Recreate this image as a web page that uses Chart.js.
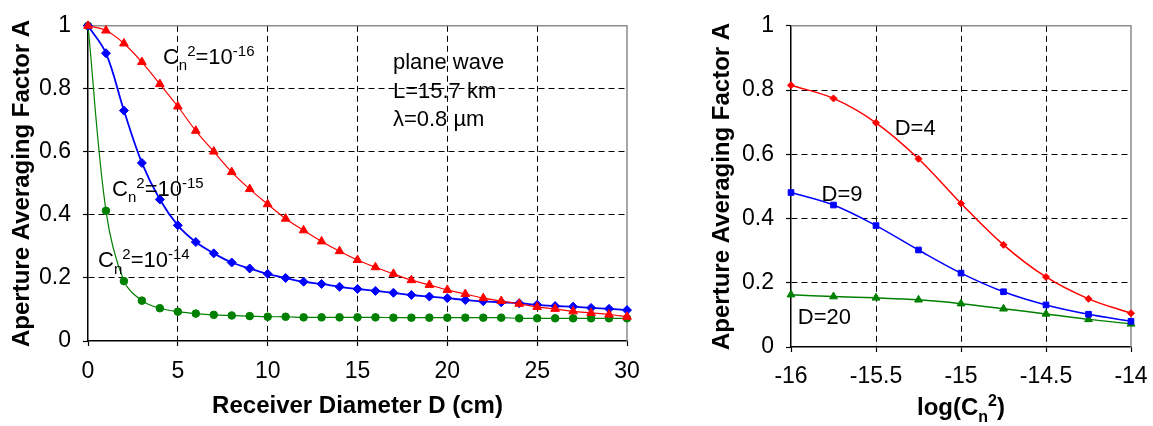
<!DOCTYPE html>
<html>
<head>
<meta charset="utf-8">
<script src="https://cdn.jsdelivr.net/npm/chart.js@4.4.0/dist/chart.umd.min.js"></script>
<style>
  html, body { margin: 0; padding: 0; background: #fff; }
  #wrap { position: relative; width: 1153px; height: 426px; overflow: hidden; }
  canvas { position: absolute; top: 0; }
  #left { left: 0; }
  #right { left: 700px; }
</style>
</head>
<body>
<div id="wrap">
  <canvas id="left" width="660" height="426"></canvas>
  <canvas id="right" width="470" height="426"></canvas>
</div>
<script>
// receiver diameter D (cm)
const diameters = [0, 1, 2, 3, 4, 5, 6, 7, 8, 9, 10, 11, 12, 13, 14, 15, 16, 17, 18, 19, 20,
                   21, 22, 23, 24, 25, 26, 27, 28, 29, 30];
// aperture averaging factor for each Cn^2
const cn2e16 = [1, 0.985, 0.944, 0.885, 0.815, 0.744, 0.667, 0.601, 0.536, 0.482, 0.434,
                0.388, 0.351, 0.316, 0.285, 0.257, 0.234, 0.213, 0.193, 0.178, 0.162,
                0.149, 0.136, 0.127, 0.118, 0.108, 0.102, 0.094, 0.089, 0.084, 0.077];
const cn2e15 = [1, 0.913, 0.731, 0.565, 0.449, 0.367, 0.314, 0.278, 0.249, 0.230, 0.213,
                0.200, 0.188, 0.181, 0.172, 0.165, 0.159, 0.153, 0.146, 0.141, 0.136,
                0.130, 0.126, 0.123, 0.120, 0.115, 0.111, 0.109, 0.105, 0.102, 0.098];
const cn2e14 = [1, 0.413, 0.190, 0.128, 0.104, 0.093, 0.087, 0.083, 0.081, 0.079, 0.077,
                0.077, 0.075, 0.075, 0.075, 0.075, 0.075, 0.074, 0.074, 0.074, 0.074,
                0.074, 0.074, 0.074, 0.072, 0.072, 0.072, 0.072, 0.072, 0.072, 0.072];

// log(Cn^2) sweep for fixed diameters
const logCn2 = [-16, -15.75, -15.5, -15.25, -15, -14.75, -14.5, -14.25, -14];
const diam4 = [0.815, 0.774, 0.698, 0.586, 0.447, 0.318, 0.218, 0.150, 0.105];
const diam9 = [0.481, 0.442, 0.378, 0.302, 0.230, 0.172, 0.131, 0.102, 0.080];
const diam20 = [0.163, 0.157, 0.153, 0.147, 0.135, 0.119, 0.103, 0.086, 0.072];

const FONT = '"Liberation Sans", Arial, sans-serif';
const pts = (xs, ys) => xs.map((x, i) => ({ x: x, y: ys[i] }));

// text with sub/superscript runs: parts = [[text, ''|'sub'|'sup'], ...]
function drawRich(ctx, x, y, parts, o) {
  const size = o.size, small = Math.round(size * 0.68), w = o.bold ? 'bold ' : '';
  const fontOf = k => w + (k ? small : size) + 'px ' + FONT;
  let total = 0;
  parts.forEach(([t, k]) => { ctx.font = fontOf(k); total += ctx.measureText(t).width; });
  let cx = o.align === 'center' ? x - total / 2 : x;
  ctx.save();
  ctx.fillStyle = '#000';
  ctx.textAlign = 'left';
  ctx.textBaseline = 'alphabetic';
  parts.forEach(([t, k]) => {
    ctx.font = fontOf(k);
    const dy = k === 'sub' ? size * 0.3 : k === 'sup' ? -size * 0.36 : 0;
    ctx.fillText(t, cx, y + dy);
    cx += ctx.measureText(t).width;
  });
  ctx.restore();
}

function textLayer(cfg) {
  return {
    id: 'textLayer',
    beforeDatasetsDraw(chart) {
      const { ctx, chartArea: a } = chart;
      ctx.save();
      ctx.strokeStyle = '#8c8c8c';
      ctx.lineWidth = 1.5;
      ctx.beginPath();
      ctx.moveTo(a.left, a.top);
      ctx.lineTo(a.right, a.top);
      ctx.lineTo(a.right, a.bottom);
      ctx.stroke();
      ctx.restore();
    },
    afterDraw(chart) {
      const { ctx, chartArea: a, scales } = chart;
      cfg.notes.forEach(n => drawRich(ctx, scales.x.getPixelForValue(n.x),
        scales.y.getPixelForValue(n.y), n.parts, { size: 22 }));
      drawRich(ctx, (a.left + a.right) / 2, cfg.xTitleY, cfg.xTitle, { size: 24, bold: true, align: 'center' });
      ctx.save();
      ctx.translate(cfg.yTitleX, (a.top + a.bottom) / 2);
      ctx.rotate(-Math.PI / 2);
      ctx.font = 'bold 24px ' + FONT;
      ctx.fillStyle = '#000';
      ctx.textAlign = 'center';
      ctx.textBaseline = 'middle';
      ctx.fillText(cfg.yTitle, 0, 0);
      ctx.restore();
    }
  };
}

function axis(min, max, step, size, pad, horizontal) {
  return {
    type: 'linear', min: min, max: max,
    ticks: {
      stepSize: step, color: '#000', padding: pad, font: { family: FONT, size: 23 },
      callback: v => String(Number(v.toFixed(2)))
    },
    grid: {
      color: c => (c.tick.value === min || c.tick.value === max) ? 'rgba(0,0,0,0)' : '#000',
      lineWidth: 1, tickLength: 5, tickColor: '#000', tickWidth: 1.2, tickBorderDash: []
    },
    border: { color: '#000', width: 1.5, dash: [6, 4] },
    afterFit: s => { if (horizontal) s.height = size; else s.width = size; }
  };
}

function series(data, color, style, radius, width) {
  return {
    data: data, borderColor: color, backgroundColor: color,
    pointBackgroundColor: color, pointBorderColor: color, pointBorderWidth: 1,
    pointStyle: style, pointRadius: radius, borderWidth: width,
    tension: 0.35, clip: false
  };
}

const cn = exp => [['C', ''], ['n', 'sub'], ['2', 'sup'], ['=10', ''], [exp, 'sup']];

new Chart(document.getElementById('left'), {
  type: 'line',
  data: {
    datasets: [
      series(pts(diameters, cn2e16), '#ff0000', 'triangle', 5, 1.2),
      series(pts(diameters, cn2e15), '#0000ff', 'rectRot', 4.5, 1.8),
      series(pts(diameters, cn2e14), '#008000', 'circle', 3.8, 1.2)
    ]
  },
  options: {
    responsive: false, animation: false, devicePixelRatio: 1,
    layout: { padding: { top: 16, right: 33, left: 0, bottom: 0 } },
    plugins: { legend: { display: false }, tooltip: { enabled: false } },
    scales: { x: axis(0, 30, 5, 85, 12, true), y: axis(0, 1, 0.2, 88, 12, false) }
  },
  plugins: [textLayer({
    xTitle: [['Receiver Diameter D (cm)', '']], xTitleY: 413,
    yTitle: 'Aperture Averaging Factor A', yTitleX: 22,
    notes: [
      { x: 4.17, y: 0.88, parts: cn('-16') },
      { x: 1.34, y: 0.4615, parts: cn('-15') },
      { x: 0.56, y: 0.234, parts: cn('-14') },
      { x: 16.97, y: 0.8615, parts: [['plane wave', '']] },
      { x: 16.97, y: 0.772, parts: [['L=15.7 km', '']] },
      { x: 16.97, y: 0.683, parts: [['\u03bb=0.8 \u00b5m', '']] }
    ]
  })]
});

new Chart(document.getElementById('right'), {
  type: 'line',
  data: {
    datasets: [
      series(pts(logCn2, diam4), '#ff0000', 'rectRot', 3.5, 1.5),
      series(pts(logCn2, diam9), '#0000ff', 'rect', 4, 1.5),
      series(pts(logCn2, diam20), '#008000', 'triangle', 4.5, 1.5)
    ]
  },
  options: {
    responsive: false, animation: false, devicePixelRatio: 1,
    layout: { padding: { top: 18, right: 39, left: 0, bottom: 0 } },
    plugins: { legend: { display: false }, tooltip: { enabled: false } },
    scales: { x: axis(-16, -14, 0.5, 79, 11, true), y: axis(0, 1, 0.2, 91, 12, false) }
  },
  plugins: [textLayer({
    xTitle: [['log(C', ''], ['n', 'sub'], ['2', 'sup'], [')', '']], xTitleY: 415,
    yTitle: 'Aperture Averaging Factor A', yTitleX: 22,
    notes: [
      { x: -15.39, y: 0.66, parts: [['D=4', '']] },
      { x: -15.82, y: 0.456, parts: [['D=9', '']] },
      { x: -15.96, y: 0.073, parts: [['D=20', '']] }
    ]
  })]
});
</script>
</body>
</html>
